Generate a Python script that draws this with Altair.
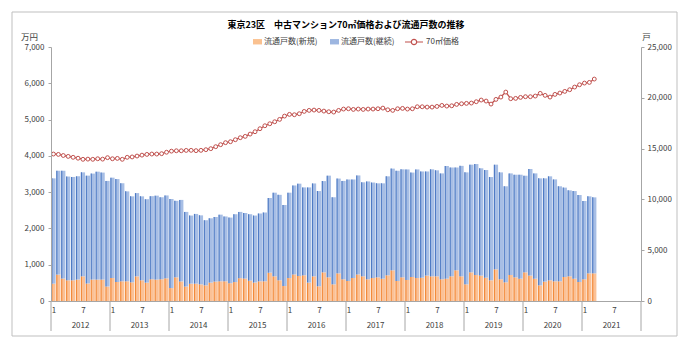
import altair as alt
import pandas as pd

years = ["2012", "2013", "2014", "2015", "2016", "2017", "2018", "2019", "2020", "2021"]
month_ticks = ["1", "7"]
series_names = ["流通戸数(新規)", "流通戸数(継続)"]
line_name = "70㎡価格"
title_text = "東京23区　中古マンション70㎡価格および流通戸数の推移"

# 流通戸数(新規) (戸), monthly Jan 2012 - Mar 2021
new_units = [
    1710, 2600, 2210, 2040, 2040, 2110, 2430, 1730, 2110, 2110, 2110, 1430,
    2260, 1870, 1940, 1940, 1840, 2430, 2040, 1810, 2140, 2110, 2140, 2230,
    1270, 2330, 1930, 1430, 1710, 1710, 1640, 1540, 1810, 1910, 1940, 1940,
    1750, 1860, 2250, 2210, 2000, 1820, 1940, 1940, 2790, 2430, 2040, 1470,
    2260, 2620, 2460, 2530, 1810, 2430, 1450, 2820, 2330, 1640, 2720, 2140,
    1970, 2260, 2620, 2430, 2140, 2260, 2330, 2200, 2530, 3020, 1970, 2330,
    2070, 2360, 2260, 2300, 2500, 2430, 2430, 2140, 2200, 2430, 3020, 2430,
    1640, 2820, 2560, 2500, 2300, 2040, 3120, 2140, 1840, 2560, 2330, 2200,
    2820, 2500, 2200, 1540, 1910, 2040, 1940, 1940, 2360, 2430, 2200, 1870,
    2140, 2720, 2720,
]
# 流通戸数(継続) (戸)
cont_units = [
    10360, 10220, 10610, 10210, 10170, 10160, 10230, 10610, 10430, 10620, 10530, 10390,
    9880, 10130, 9650, 8850, 8460, 8190, 8260, 8210, 8180, 8260, 8070, 8160,
    8770, 7530, 8020, 7340, 6700, 6860, 6790, 6410, 6330, 6360, 6560, 6380,
    6460, 6680, 6520, 6450, 6540, 6590, 6670, 6770, 7350, 8230, 8410, 7980,
    8400, 8750, 9090, 8650, 9370, 9140, 9370, 8980, 10010, 8570, 9330, 9680,
    9990, 9700, 9740, 9250, 9630, 9400, 9250, 9380, 9740, 10010, 10850, 10630,
    10880, 10280, 10690, 10450, 10250, 10530, 10430, 10420, 11090, 10710, 10120, 10870,
    11020, 10600, 10920, 10560, 10590, 10160, 10300, 10520, 9450, 10000, 10100, 10230,
    9510, 10490, 10360, 10530, 10160, 10230, 10030, 9350, 8800, 8460, 8620, 8560,
    7700, 7580, 7480,
]
# 70㎡価格 (万円)
price = [
    4050, 4040, 4010, 3985, 3960, 3935, 3905, 3910, 3905, 3920, 3910, 3950,
    3920, 3930, 3905, 3960, 3970, 3995, 4020, 4040, 4050, 4050, 4060, 4100,
    4130, 4140, 4140, 4150, 4152, 4143, 4152, 4170, 4198, 4253, 4308, 4363,
    4390, 4445, 4500, 4537, 4600, 4665, 4748, 4830, 4885, 4940, 5005, 5096,
    5143, 5133, 5161, 5225, 5253, 5262, 5253, 5234, 5216, 5207, 5253, 5290,
    5298, 5280, 5290, 5280, 5290, 5290, 5298, 5316, 5270, 5253, 5298, 5308,
    5290, 5298, 5353, 5353, 5344, 5344, 5362, 5390, 5372, 5380, 5418, 5436,
    5446, 5455, 5492, 5538, 5510, 5427, 5556, 5620, 5758, 5575, 5584, 5611,
    5630, 5630, 5648, 5722, 5667, 5620, 5694, 5731, 5777, 5823, 5896, 5960,
    6006, 6024, 6116,
]

n = len(price)
df = pd.DataFrame({
    "i": list(range(n)),
    "year": [years[k // 12] for k in range(n)],
    "month": [k % 12 + 1 for k in range(n)],
    "new": new_units,
    "cont": cont_units,
    "price": price,
})
years_df = pd.DataFrame({"year": years, "pos": [k * 12 + 6 for k in range(len(years))]})
bounds_df = pd.DataFrame({"b": [k * 12 for k in range(len(years) + 1)]})
legend_df = pd.DataFrame({"series": series_names})

FONT = "Noto Sans CJK JP"
TXT = "#404040"
AX = "#A6A6A6"
ORANGE = "#F8A661"
BLUE = "#7497D3"
ORANGE_LIGHT = "#FBC196"
ORANGE_DARK = "#F28A3A"
BLUE_LIGHT = "#A7BEE5"
BLUE_DARK = "#4E7AC4"
RED = "#C0504D"

xscale = alt.Scale(domain=[0, len(years) * 12], nice=False, zero=False)
xaxis = alt.Axis(
    values=[k * 6 + 0.5 for k in range(len(years) * 2)],
    labelExpr=f"(datum.value % 12) < 1 ? '{month_ticks[0]}' : '{month_ticks[1]}'",
    ticks=False, tickSize=0, grid=False, title=None, labelAngle=0,
    labelFlush=False, labelOverlap=False, labelPadding=5,
    labelFontSize=8, labelColor=TXT, labelFont=FONT,
    domainColor=AX, domainWidth=1, zindex=1,
)
yscale_r = alt.Scale(domain=[0, 25000], nice=False)
yaxis_r = alt.Axis(
    orient="right", values=[0, 5000, 10000, 15000, 20000, 25000], format=",.0f",
    grid=False, title="戸", titleAngle=0, titleX=5, titleY=-11,
    titleAlign="center", titleBaseline="middle", titleFontSize=8.5,
    titleFontWeight="normal", titleColor=TXT, titleFont=FONT,
    labelFontSize=8, labelColor=TXT, labelFont=FONT, labelPadding=3,
    tickSize=3, tickColor=AX, domainColor=AX, zindex=1,
)
yscale_l = alt.Scale(domain=[0, 7000], nice=False)
yaxis_l = alt.Axis(
    orient="left", values=[0, 1000, 2000, 3000, 4000, 5000, 6000, 7000], format=",.0f",
    grid=False, title="万円", titleAngle=0, titleX=-22, titleY=-11,
    titleAlign="center", titleBaseline="middle", titleFontSize=8.5,
    titleFontWeight="normal", titleColor=TXT, titleFont=FONT,
    labelFontSize=8, labelColor=TXT, labelFont=FONT, labelPadding=4,
    tickSize=3, tickColor=AX, domainColor=AX, zindex=1,
)


def X(field):
    return alt.X(field, scale=xscale, axis=xaxis)


def YR(field):
    return alt.Y(field, scale=yscale_r, axis=yaxis_r)


def YL(field):
    return alt.Y(field, scale=yscale_l, axis=yaxis_l)


base = alt.Chart(df).transform_calculate(
    x0="datum.i + 0.07", x1="datum.i + 0.93", xs="datum.i + 0.3",
    zero="0", total="datum.new + datum.cont",
)
bars_new = base.mark_rect(color=ORANGE_LIGHT, strokeWidth=0).encode(
    x=X("x0:Q"), x2="x1:Q", y=YR("zero:Q"), y2="new:Q",
)
bars_new_s = base.mark_rect(color=ORANGE_DARK, strokeWidth=0).encode(
    x=X("x0:Q"), x2="xs:Q", y=YR("zero:Q"), y2="new:Q",
)
bars_cont = base.mark_rect(color=BLUE_LIGHT, strokeWidth=0).encode(
    x=X("x0:Q"), x2="x1:Q", y=YR("new:Q"), y2="total:Q",
)
bars_cont_s = base.mark_rect(color=BLUE_DARK, strokeWidth=0).encode(
    x=X("x0:Q"), x2="xs:Q", y=YR("new:Q"), y2="total:Q",
)
bars = alt.layer(bars_new, bars_new_s, bars_cont, bars_cont_s)

lbase = alt.Chart(df).transform_calculate(xc="datum.i + 0.5", name=f"'{line_name}'")
line = lbase.mark_line(strokeWidth=1.3).encode(
    x=X("xc:Q"),
    y=YL("price:Q"),
    stroke=alt.Stroke(
        "name:N",
        scale=alt.Scale(domain=[line_name], range=[RED]),
        legend=alt.Legend(
            orient="none", legendX=353, legendY=-15, title=None,
            symbolType="M-1,0L-0.3,0M0.3,0L1,0M0.3,0A0.3,0.3,0,1,1,-0.3,0A0.3,0.3,0,1,1,0.3,0",
            symbolSize=324, symbolStrokeWidth=1.2, symbolFillColor="white",
            labelFontSize=8, labelColor=TXT, labelFont=FONT, labelOffset=2, padding=0,
        ),
    ),
)
pts = lbase.mark_point(shape="circle", filled=True, fill="white", stroke=RED,
                       strokeWidth=1, size=15, opacity=1).encode(
    x=X("xc:Q"),
    y=YL("price:Q"),
)
left = alt.layer(line, pts)

legend_layer = alt.Chart(legend_df).transform_filter("false").mark_square().encode(
    color=alt.Color(
        "series:N",
        scale=alt.Scale(domain=series_names, range=[ORANGE, BLUE]),
        legend=alt.Legend(
            orient="none", legendX=202, legendY=-10, title=None, direction="horizontal",
            symbolType="M-1,-0.6L1,-0.6L1,0.6L-1,0.6Z", symbolSize=81,
            symbolStrokeWidth=0, columnPadding=12, labelOffset=2, padding=0,
            labelFontSize=8, labelColor=TXT, labelFont=FONT,
        ),
    )
)

seps = alt.Chart(bounds_df).mark_rule(color=AX, strokeWidth=1).encode(
    x=X("b:Q"),
    y=alt.value(254), y2=alt.value(284),
)
year_text = alt.Chart(years_df).mark_text(
    fontSize=8, color=TXT, font=FONT, baseline="middle", align="center"
).encode(
    x=X("pos:Q"),
    y=alt.value(279),
    text="year:N",
)
frame = alt.Chart(pd.DataFrame({"k": [0]})).mark_rect(
    fillOpacity=0, stroke="#BFBFBF", strokeWidth=1
).encode(
    x=alt.value(-39), x2=alt.value(626), y=alt.value(-35), y2=alt.value(289)
)

chart = alt.layer(bars, left, seps, year_text, legend_layer, frame).resolve_scale(
    y="independent", color="independent"
).properties(
    width=590, height=254,
    title=alt.TitleParams(title_text, anchor="middle", fontSize=9, font=FONT,
                          fontWeight="bold", color="black", offset=-18),
    padding={"left": 51, "top": 47, "right": 59, "bottom": 49},
    autosize=alt.AutoSizeParams(type="none"),
    background="white",
).configure_view(strokeWidth=0)

chart.save("out.html", embed_options={"renderer": "svg", "actions": False})
